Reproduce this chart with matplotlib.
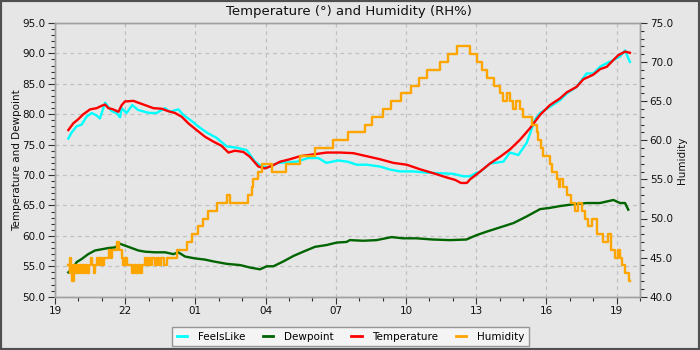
import matplotlib
matplotlib.use("Agg")
import matplotlib.pyplot as plt
from matplotlib.patches import Rectangle
from matplotlib.ticker import MultipleLocator, FixedLocator

# ---- data (hours after 19:00) ----
temp_t = [0.57,0.78,1.0,1.21,1.5,1.78,2.0,2.14,2.28,2.49,2.71,2.85,2.99,3.35,3.63,3.92,4.2,4.56,4.84,5.13,5.41,5.7,6.05,6.41,6.77,7.12,7.41,7.69,8.05,8.33,8.69,8.97,9.26,9.62,10.04,10.47,11.04,11.61,12.18,12.75,13.32,13.89,14.46,15.03,15.6,16.17,16.74,17.1,17.35,17.6,17.74,18.16,18.59,19.02,19.44,19.87,20.3,20.73,21.15,21.58,21.87,22.29,22.58,23.0,23.29,23.58,23.86,24.07,24.36,24.57]
temp_v = [77.4,78.5,79.2,80.0,80.8,81.0,81.4,81.6,81.0,80.8,80.4,81.5,82.1,82.2,81.8,81.4,81.0,80.9,80.5,80.2,79.6,78.5,77.4,76.3,75.5,74.8,73.7,74.0,73.8,73.0,71.4,71.1,71.5,72.2,72.6,73.1,73.4,73.7,73.7,73.6,73.1,72.6,72.0,71.7,70.95,70.3,69.6,69.2,68.7,68.7,69.3,70.55,71.9,73.0,74.2,75.8,77.7,79.9,81.5,82.6,83.6,84.5,85.75,86.5,87.4,87.8,88.9,89.7,90.3,90.1]

feels_t = [0.57,0.71,0.92,1.14,1.35,1.57,1.78,1.92,2.14,2.42,2.63,2.78,2.85,3.06,3.3,3.55,3.83,4.06,4.34,4.7,4.91,5.27,5.48,5.77,6.12,6.48,6.91,7.34,7.76,8.19,8.4,8.55,8.83,9.12,9.54,9.97,10.33,10.82,11.25,11.6,12.1,12.5,12.9,13.32,13.89,14.32,14.74,15.31,15.88,16.45,17.02,17.45,17.74,18.02,18.16,18.59,19.16,19.44,19.8,20.16,20.51,20.73,21.15,21.58,21.87,22.29,22.72,23.0,23.29,23.58,23.86,24.15,24.36,24.5,24.57]
feels_v = [76.0,77.0,78.0,78.3,79.6,80.2,79.8,79.3,81.9,80.5,80.2,79.5,81.0,80.2,81.5,80.7,80.4,80.2,80.2,81.0,80.4,80.8,79.9,79.1,78.0,77.0,76.1,74.7,74.5,74.1,73.0,72.2,71.4,71.3,72.0,72.1,72.2,72.8,72.8,72.0,72.4,72.2,71.7,71.7,71.4,70.9,70.6,70.6,70.4,70.3,70.2,69.8,69.8,70.4,70.5,71.9,72.2,73.7,73.3,75.3,79.1,80.2,81.2,82.3,83.4,84.5,86.7,86.7,87.8,88.4,88.9,89.5,90.5,89.2,88.6]

dew_t = [0.57,0.78,0.93,1.14,1.42,1.71,2.0,2.28,2.56,2.78,2.99,3.28,3.56,3.85,4.27,4.7,5.06,5.27,5.56,5.98,6.41,6.77,7.34,7.91,8.33,8.76,9.05,9.33,9.76,10.19,10.61,11.11,11.61,12.04,12.46,12.6,13.17,13.74,14.38,14.87,15.44,16.16,16.87,17.58,18.0,18.45,19.02,19.59,20.16,20.73,21.15,21.58,22.15,22.72,23.29,23.86,24.15,24.36,24.5]
dew_v = [54.0,54.8,55.7,56.2,57.0,57.6,57.8,58.0,58.1,58.7,58.4,58.0,57.6,57.4,57.3,57.3,57.0,57.3,56.6,56.3,56.1,55.8,55.4,55.2,54.8,54.5,55.0,55.0,55.8,56.7,57.4,58.2,58.5,58.9,59.0,59.3,59.2,59.3,59.8,59.6,59.6,59.4,59.3,59.4,60.1,60.7,61.4,62.1,63.2,64.4,64.6,64.9,65.2,65.4,65.4,65.9,65.4,65.4,64.3]

hum_t = [0.57,0.62,0.66,0.70,0.74,0.80,0.84,0.90,0.96,1.02,1.10,1.16,1.24,1.30,1.38,1.45,1.52,1.58,1.66,1.72,1.80,1.86,1.94,2.02,2.10,2.30,2.38,2.45,2.66,2.72,2.85,2.92,3.00,3.08,3.28,3.38,3.46,3.55,3.65,3.72,3.85,3.92,4.00,4.08,4.16,4.27,4.35,4.45,4.55,4.65,4.77,5.20,5.63,5.84,6.13,6.34,6.55,6.91,7.34,7.48,8.26,8.40,8.47,8.69,8.83,9.26,9.87,10.47,11.11,11.87,12.53,13.25,13.55,14.02,14.35,14.77,15.20,15.57,15.88,16.45,16.81,17.17,17.74,18.02,18.23,18.45,18.77,19.02,19.15,19.30,19.45,19.59,19.72,19.87,20.00,20.37,20.58,20.66,20.76,20.87,21.15,21.25,21.44,21.52,21.58,21.72,21.87,22.05,22.22,22.36,22.51,22.65,22.79,22.97,23.15,23.40,23.63,23.75,23.93,24.05,24.15,24.25,24.36,24.45,24.52,24.57]
hum_v = [44,43,45,44,42,44,43,44,43,44,43,44,43,44,43,44,45,44,43,44,45,44,45,44,45,46,45,46,47,46,45,44,45,44,43,44,43,44,43,44,45,44,45,44,45,44,45,44,45,44,45,46,47,48,49,50,51,52,53,52,53,54,55,56,57,56,57,58,59,60,61,62,63,64,65,66,67,68,69,70,71,72,71,70,69,68,67,66,65,66,65,64,65,64,63,62,61,60,59,58,57,56,55,54,55,54,53,52,51,52,51,50,49,50,48,47,48,46,45,46,45,44,43,43,42,42]

x_tick_pos = [0, 3, 6, 9, 12, 15, 18, 21, 24]
x_tick_labels = ["19", "22", "01", "04", "07", "10", "13", "16", "19"]

# ---- style ----
BG = "#e6e6e6"
SPINE = "#a0a0a0"
FS = 7.5
plt.rcParams["font.family"] = ["DejaVu Sans"]

fig = plt.figure(figsize=(7, 3.5), dpi=100, facecolor=BG)
ax = fig.add_axes([55/700, 53.3/350, 585/700, 273.7/350])
ax.set_facecolor(BG)
ax2 = ax.twinx()

l1, = ax.plot(feels_t, feels_v, color="#00ffff", lw=1.7, label="FeelsLike")
l2, = ax.plot(dew_t, dew_v, color="#006400", lw=1.7, label="Dewpoint")
l3, = ax.plot(temp_t, temp_v, color="#ff0000", lw=1.7, label="Temperature")
l4, = ax2.plot(hum_t, hum_v, color="#ffa500", lw=1.7, drawstyle="steps-post", label="Humidity")

ax.set_xlim(0, 25)
ax.set_ylim(50, 95)
ax2.set_ylim(40, 75)

ax.xaxis.set_major_locator(FixedLocator(x_tick_pos))
ax.set_xticklabels(x_tick_labels)
ax.xaxis.set_minor_locator(MultipleLocator(1))
ax.yaxis.set_major_locator(MultipleLocator(5))
ax.yaxis.set_minor_locator(MultipleLocator(1))
ax2.yaxis.set_major_locator(MultipleLocator(5))
ax2.yaxis.set_minor_locator(MultipleLocator(1))
ax.yaxis.set_major_formatter(matplotlib.ticker.FormatStrFormatter("%.1f"))
ax2.yaxis.set_major_formatter(matplotlib.ticker.FormatStrFormatter("%.1f"))

for a in (ax, ax2):
    a.tick_params(which="major", length=5, width=0.8, color="#333333", labelsize=FS, labelcolor="#111111", pad=2)
    a.tick_params(which="minor", length=3, width=0.8, color="#333333")
    for s in a.spines.values():
        s.set_color(SPINE)
        s.set_linewidth(1.0)

ax.grid(True, which="major", color="#c0c0c0", linestyle=(0, (3, 3)), linewidth=0.9)
ax.set_axisbelow(True)

fig.text(349/700, 1 - 11/350, "Temperature (°) and Humidity (RH%)", ha="center", va="center",
         fontsize=9.5, color="#111111")
fig.text(17/700, 1 - 160/350, "Temperature and Dewpoint", rotation=90, ha="center", va="center",
         fontsize=FS, color="#111111")
fig.text(682/700, 1 - 160/350, "Humidity", rotation=90, ha="center", va="center",
         fontsize=FS, color="#111111")

leg = fig.legend([l1, l2, l3, l4], ["FeelsLike", "Dewpoint", "Temperature", "Humidity"],
                 loc="center", bbox_to_anchor=(350.5/700, 1 - 336.5/350), ncol=4,
                 fontsize=FS, frameon=True, fancybox=False, facecolor="#f8f8f8",
                 edgecolor="#808080", handlelength=1.0, columnspacing=1.7, handletextpad=1.0,
                 borderpad=0.45)
leg.get_frame().set_linewidth(1.0)
for h in leg.legend_handles:
    h.set_linewidth(2.0)

fig.patches.append(Rectangle((0, 0), 1, 1, transform=fig.transFigure, fill=False,
                             edgecolor="#505050", linewidth=3))

fig.savefig("out.png", dpi=100, facecolor=BG)
